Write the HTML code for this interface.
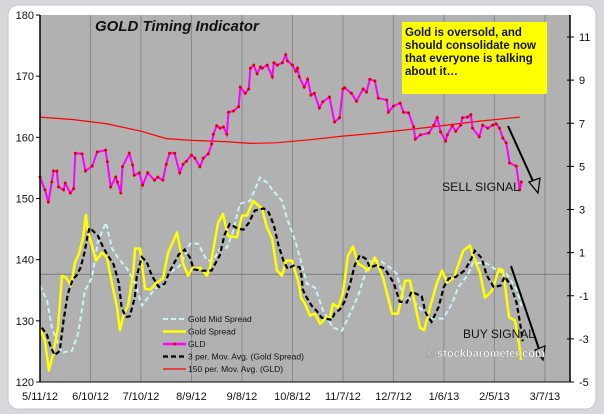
<!DOCTYPE html>
<html><head><meta charset="utf-8">
<style>
html,body{margin:0;padding:0;background:#d6d8dc;width:604px;height:414px;overflow:hidden;font-family:"Liberation Sans",sans-serif;}
svg{display:block;}
</style></head>
<body>
<svg id="chart" width="604" height="414" xmlns="http://www.w3.org/2000/svg">
  <rect x="8" y="5" width="588" height="404" rx="10" fill="#ffffff" stroke="#c4c6ca"/>
  <rect x="40" y="15" width="530" height="367" fill="#b1b1b1"/>
  <g id="grid"></g>
  <g id="series"></g>
  <g id="axes"></g>
  <text x="95" y="31" font-size="15" font-weight="bold" font-style="italic" fill="#111">GOLD Timing Indicator</text>
  <rect x="402" y="22" width="145" height="72" fill="#ffff00"/>
  <g font-size="11.5" font-weight="bold" fill="#111">
    <text x="405" y="36">Gold is oversold, and</text>
    <text x="405" y="49">should consolidate now</text>
    <text x="405" y="62">that everyone is talking</text>
    <text x="405" y="75">about it…</text>
  </g>
  <text x="442" y="191" font-size="12" fill="#111" textLength="78" lengthAdjust="spacingAndGlyphs">SELL  SIGNAL</text>
  <g stroke="#000" stroke-width="2" fill="none">
    <line x1="508" y1="126" x2="537" y2="190"/>
    <polygon points="529,182 540,178 538,193" fill="#b1b1b1" stroke-width="1.2"/>
  </g>
  <text x="463" y="338" font-size="12" fill="#111" textLength="72" lengthAdjust="spacingAndGlyphs">BUY  SIGNAL</text>
  <g stroke="#000" stroke-width="2" fill="none">
    <line x1="511" y1="266" x2="542" y2="358"/>
    <polygon points="535,350 545,346 543,360" fill="#b1b1b1" stroke-width="1.2"/>
  </g>
  <text x="426" y="357" font-size="11" font-weight="bold" fill="#ffffff" stroke="#777" stroke-width="0.3">© stockbarometer.com</text>
  <g id="legend" font-size="8.5" fill="#111"></g>
</svg>
<script>
const X0=40,X1=570,Y0=15,Y1=382;
const dateLabels=["5/11/12","6/10/12","7/10/12","8/9/12","9/8/12","10/8/12","11/7/12","12/7/12","1/6/13","2/5/13","3/7/13"];
const dateDays=[0,30,60,90,120,150,180,210,240,270,300];
const leftTicks=[120,130,140,150,160,170,180];
const rightTicks=[-5,-3,-1,1,3,5,7,9,11];
const gldDays=[0,3,5,7,8,10,11,14,15,18,20,21,25,27,31,34,39,40,42,45,46,48,49,53,55,56,59,61,64,68,70,73,75,77,80,83,85,87,90,92,95,97,100,102,103,105,107,109,111,112,115,118,119,122,124,125,127,129,131,132,135,138,139,141,144,146,147,150,152,153,154,157,159,161,163,166,168,172,175,178,180,181,185,188,192,194,196,199,201,206,207,210,214,216,219,222,223,226,231,234,236,238,241,242,245,247,250,251,254,256,257,261,263,266,269,271,273,275,277,279,283,285,286];
const gldVals=[153.5,151.4,149.4,152.7,154.5,154.5,151.9,151.4,152.5,150.9,151.6,157.4,157.3,154.5,155.3,157.6,157.9,156.0,151.9,153.5,152.7,150.9,155.2,157.4,155.5,153.8,154.2,152.2,154.2,153.0,153.5,153.0,155.6,157.4,157.4,154.2,155.6,156.1,157.1,156.6,155.2,156.6,157.3,158.9,160.5,161.9,161.5,161.7,160.5,164.1,164.3,165.0,168.2,167.2,167.9,171.3,171.8,170.4,171.5,171.3,171.8,169.9,172.2,171.8,172.2,173.5,172.5,171.8,170.8,171.3,169.9,168.2,169.5,166.9,167.2,164.8,165.8,166.6,162.5,163.2,167.9,168.1,167.2,165.9,167.9,167.4,169.5,169.2,166.4,166.1,164.1,165.1,165.6,164.1,164.0,161.7,159.7,160.4,160.7,162.0,163.2,160.9,159.4,160.4,161.9,161.0,162.0,163.2,163.3,163.7,161.5,160.1,162.0,161.5,162.0,162.2,161.5,159.9,159.1,155.8,155.3,151.4,152.7];
const ma150Days=[0,20,40,60,75,90,110,125,140,160,180,200,230,260,285];
const ma150Vals=[163.3,162.9,162.2,161.0,159.8,159.5,159.3,159.0,159.1,159.6,160.2,160.7,161.6,162.6,163.3];
const spreadDays=[0,3,5.3,7.7,10.7,13.1,15.5,18.4,20.8,23.2,25.6,27.3,28.5,33.3,36.8,39.8,42.8,45.8,47.5,49.9,52.3,55.3,56.5,59.4,62.4,65.4,69.5,73.1,76.1,81.4,85,88,90.3,95.1,99.2,101,105.8,108.7,111.7,117,120,123,126.6,131.9,134.9,137.9,140.8,143.8,146.2,149.7,153.3,154.5,155.1,157.4,160.4,163.4,166.4,169.3,172.3,174.1,177.1,180,183,186,189,193.1,194.9,199,203.8,209.2,212.7,216.9,219.8,225.8,228.2,231.7,235.9,238.9,241.9,246,251.4,255.5,257.3,261.4,264.4,268.6,272.7,275.1,278.7,282.2,284.6,285.8];
const spreadVals=[-2.48,-3.1,-4.47,-3.7,-2.5,-0.07,-0.16,-0.53,0.54,0.95,1.7,2.76,2.0,0.63,1.0,0.77,-0.44,-1.55,-2.6,-1.8,-1.46,0.0,1.19,1.19,-0.67,-0.72,-0.39,-0.2,1.0,1.93,0.49,-0.07,0.26,0.3,-0.07,0.3,2.39,2.8,1.79,1.7,2.72,2.72,3.4,3.04,2.16,1.65,0.17,-0.07,0.63,0.63,-0.3,-0.76,-1.09,-1.37,-1.92,-1.83,-2.3,-2.06,-2.0,-1.37,-1.55,-0.9,0.86,1.28,0.49,0.3,0.17,0.77,-0.16,-1.83,-1.83,-0.3,-0.3,-2.48,-2.6,-1.55,-0.39,0.17,-0.39,-0.16,1.09,1.32,0.86,0.07,-1.09,-0.76,0.26,0.17,-2.0,-2.15,-3.2,-3.97];
const midDays=[0,4.2,7.1,10.1,13.1,19,22.6,26.7,30.9,34.5,39.2,42.8,46.3,51.7,56.5,60.6,64.2,68.4,73.1,77.3,83.2,89.1,93.9,99.2,102.8,107,111.1,114.7,118.8,124.8,130.7,134.9,138.5,143.8,146.8,151.5,154.5,158.6,163.4,168.2,174.1,179.5,184.2,189,193.1,196.1,202,208,212.1,215.7,221.7,228.8,233.5,239.5,244.8,248.4,254.4,257.3,265.6,271.6,277.5,283.5,286.4];
const midVals=[-0.53,-1.23,-2.48,-3.1,-3.64,-3.55,-2.76,-0.76,-0.16,1.56,2.39,1.19,0.77,0.26,-0.44,-1.46,-1.09,-0.67,-0.53,0.07,0.4,1.42,1.42,0.63,0.63,1.19,1.23,2.0,3.27,3.4,4.48,4.25,3.88,3.4,2.58,1.56,0.77,-0.44,-0.62,-1.69,-2.48,-2.62,-1.83,-1.0,0.0,0.63,0.63,0.3,0.0,-1.09,-1.23,-1.83,-2.06,-2.06,-1.37,-0.62,0.0,0.54,0.49,0.17,0.0,-0.76,-1.55];

const xS=d=>X0+d*1.683;
const yL=v=>Y1-(v-120)*(Y1-Y0)/60;
const yR=v=>Y1-(v+5)*(Y1-37)/16;
const NS="http://www.w3.org/2000/svg";
function mk(tag,attrs,parent){const e=document.createElementNS(NS,tag);for(const k in attrs)e.setAttribute(k,attrs[k]);parent.appendChild(e);return e;}
const grid=document.getElementById('grid'),ser=document.getElementById('series'),axes=document.getElementById('axes'),leg=document.getElementById('legend');

dateDays.forEach((d,i)=>{
  const x=xS(d);
  if(i>0){const g=mk('line',{x1:x,x2:x,y1:Y0,y2:Y1,stroke:'#8a8a8a','stroke-width':1},grid);
  
  }
  const t=mk('text',{x:x,y:400,'text-anchor':'middle','font-size':11,fill:'#111'},axes);
  t.textContent=dateLabels[i];
  
  
});
const zl=mk('line',{x1:X0,x2:X1,y1:yR(0),y2:yR(0),stroke:'#7a7a7a','stroke-width':1},grid);



function poly(days,vals,ys,attrs,name){
  const pts=days.map((d,i)=>xS(d).toFixed(1)+','+ys(vals[i]).toFixed(1)).join(' ');
  const p=mk('polyline',Object.assign({points:pts,fill:'none'},attrs),ser);
  
  
  return p;
}
poly(midDays,midVals,yR,{stroke:'#c9f3f6','stroke-width':2,'stroke-dasharray':'5,3'},'gold-mid-spread-line');
poly(spreadDays,spreadVals,yR,{stroke:'#ffff00','stroke-width':2.5,'stroke-linejoin':'round'},'gold-spread-line');
const maVals=spreadVals.map((v,i)=>{const a=spreadVals.slice(Math.max(0,i-2),i+1);return a.reduce((s,x)=>s+x,0)/a.length;});
const maDays=spreadDays.map(d=>d+1);
poly(maDays,maVals,yR,{stroke:'#000','stroke-width':2.2,'stroke-dasharray':'5,3'},'gold-spread-3ma-line');
poly(ma150Days,ma150Vals,yL,{stroke:'#ff0000','stroke-width':1.2},'gld-150ma-line');
poly(gldDays,gldVals,yL,{stroke:'#ff00ff','stroke-width':2},'gld-line');
gldDays.forEach((d,i)=>{
  const c=mk('circle',{cx:xS(d),cy:yL(gldVals[i]),r:1.5,fill:'#e00000'},ser);
  
  
});

mk('line',{x1:X0,x2:X0,y1:Y0,y2:Y1,stroke:'#000','stroke-width':1.5},axes);
mk('line',{x1:X0,x2:X1,y1:Y1,y2:Y1,stroke:'#000','stroke-width':1},axes);
mk('line',{x1:X1,x2:X1,y1:Y0,y2:Y1,stroke:'#000','stroke-width':1.5},axes);
leftTicks.forEach(v=>{
  const y=yL(v);
  mk('line',{x1:X0-4,x2:X0,y1:y,y2:y,stroke:'#000'},axes);
  const t=mk('text',{x:X0-6,y:y+4,'text-anchor':'end','font-size':11,fill:'#111'},axes);
  t.textContent=v;
  
  
});
rightTicks.forEach(v=>{
  const y=yR(v);
  mk('line',{x1:X1-3,x2:X1+4,y1:y,y2:y,stroke:'#000'},axes);
  const t=mk('text',{x:X1+9,y:y+4,'font-size':11,fill:'#111'},axes);
  t.textContent=v;
  
  
});

const legNames=["Gold Mid Spread","Gold  Spread","GLD","3 per. Mov. Avg. (Gold  Spread)","150 per. Mov. Avg. (GLD)"];
const legStyles=[{stroke:'#c9f3f6','stroke-width':2,'stroke-dasharray':'5,3'},{stroke:'#ffff00','stroke-width':2.5},{stroke:'#ff00ff','stroke-width':2.5},{stroke:'#000','stroke-width':2.2,'stroke-dasharray':'5,3'},{stroke:'#ff0000','stroke-width':1.2}];
legNames.forEach((n,i)=>{
  const y=319+i*12.5;
  mk('line',Object.assign({x1:163,x2:186,y1:y,y2:y},legStyles[i]),leg);
  if(i===2)mk('circle',{cx:175,cy:y,r:1.5,fill:'#e00000'},leg);
  const t=mk('text',{x:188,y:y+3},leg);
  t.textContent=n;
  
  
});
</script>
</body></html>
